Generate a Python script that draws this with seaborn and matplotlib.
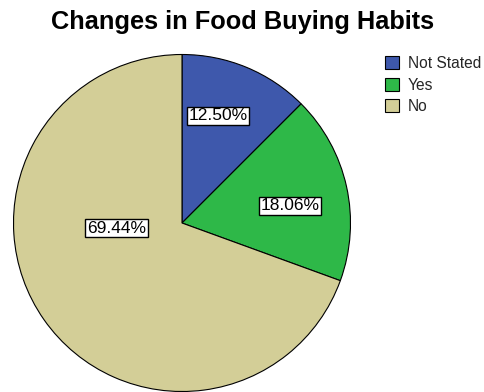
import matplotlib
matplotlib.use("Agg")
import matplotlib.pyplot as plt
import seaborn as sns
import numpy as np

# Survey responses
categories = ["Not Stated", "Yes", "No"]
percentages = [12.50, 18.06, 69.44]
label_texts = ["12.50%", "18.06%", "69.44%"]
title = "Changes in Food Buying Habits"

sns.set_theme(style="white")
plt.rcParams["font.family"] = ["Liberation Sans", "DejaVu Sans"]

palette = sns.color_palette(["#3E58AC", "#2EB848", "#D3CE97"])

W, H = 485, 392
fig = plt.figure(figsize=(W / 100, H / 100), dpi=100)
ax = fig.add_axes([0, 0, 1, 1])

cx, cy, r = 182, 169, 168.5
wedges, _ = ax.pie(
    percentages,
    colors=palette,
    startangle=90,
    counterclock=False,
    center=(cx, cy),
    radius=r,
    frame=True,
    wedgeprops=dict(edgecolor="black", linewidth=0.8),
)
ax.set_xlim(0, W)
ax.set_ylim(0, H)
ax.set_aspect("equal")
ax.axis("off")

# label placement: (angle in degrees, fraction of radius)
label_place = [(71.5, 0.67), (9.0, 0.65), (184.4, 0.39)]
for txt, (ang, frac) in zip(label_texts, label_place):
    a = np.deg2rad(ang)
    ax.text(cx + frac * r * np.cos(a), cy + frac * r * np.sin(a), txt,
            ha="center", va="center", fontsize=12.5, color="black",
            bbox=dict(boxstyle="square,pad=0.1", fc="white", ec="black", lw=1.0))

fig.text(0.5, 1 - 29 / H, title, ha="center", va="baseline",
         fontsize=18.3, fontweight="bold", color="black")

leg = ax.legend(wedges, categories, loc="upper left",
                bbox_to_anchor=(385 / W, 1 - 56 / H), bbox_transform=fig.transFigure,
                frameon=False, fontsize=11.2, handlelength=0.9, handleheight=0.9,
                handletextpad=0.55, labelspacing=0.42, borderpad=0, borderaxespad=0)
for h in leg.legend_handles:
    h.set_edgecolor("black")
    h.set_linewidth(0.8)

fig.savefig("out.png", dpi=100, facecolor="white")
